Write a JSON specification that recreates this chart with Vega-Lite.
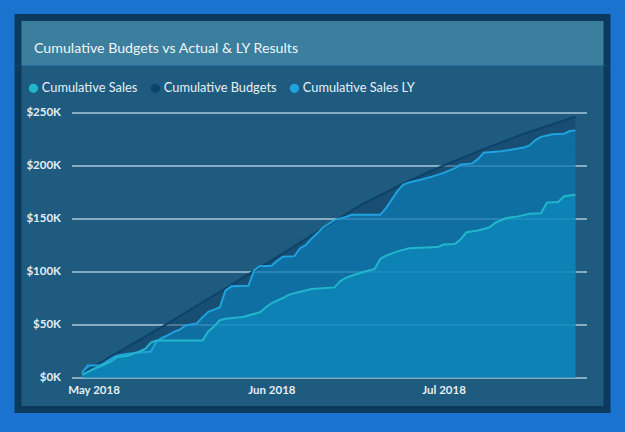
{
  "$schema": "https://vega.github.io/schema/vega-lite/v6.json",
  "background": "#1a73cf",
  "padding": {"left": 14, "top": 13.5, "right": 15, "bottom": 19.5},
  "spacing": 0,
  "bounds": "flush",
  "config": {"font": "Lato", "view": {"stroke": null}},
  "vconcat": [
    {
      "width": 589,
      "height": 48,
      "view": {"fill": "#3b7e9d", "stroke": "#0b3a5c", "strokeWidth": 7, "strokeDash": [637, 589, 48]},
      "data": {"values": [{}]},
      "mark": {"type": "text", "text": ""},
      "title": {
        "text": "Cumulative Budgets vs Actual & LY Results",
        "anchor": "start",
        "orient": "top",
        "offset": -49.5,
        "dx": 16,
        "baseline": "alphabetic",
        "font": "Lato",
        "fontSize": 14.2,
        "fontWeight": "normal",
        "color": "#eef5f8"
      }
    },
    {
      "width": 589,
      "height": 344,
      "view": {"fill": "#1f5b7f", "stroke": "#0b3a5c", "strokeWidth": 7, "strokeDash": [0, 589, 1277]},
      "data": {
        "values": [
          {"date": "2018-04-29", "series": "Cumulative Budgets", "value": 4000},
          {"date": "2018-05-06", "series": "Cumulative Budgets", "value": 26000},
          {"date": "2018-05-13", "series": "Cumulative Budgets", "value": 48000},
          {"date": "2018-05-20", "series": "Cumulative Budgets", "value": 71000},
          {"date": "2018-05-27", "series": "Cumulative Budgets", "value": 94000},
          {"date": "2018-06-03", "series": "Cumulative Budgets", "value": 117000},
          {"date": "2018-06-10", "series": "Cumulative Budgets", "value": 141000},
          {"date": "2018-06-17", "series": "Cumulative Budgets", "value": 164000},
          {"date": "2018-06-24", "series": "Cumulative Budgets", "value": 183000},
          {"date": "2018-07-01", "series": "Cumulative Budgets", "value": 200000},
          {"date": "2018-07-08", "series": "Cumulative Budgets", "value": 215500},
          {"date": "2018-07-15", "series": "Cumulative Budgets", "value": 230000},
          {"date": "2018-07-24", "series": "Cumulative Budgets", "value": 246000},

          {"date": "2018-04-29", "series": "Cumulative Sales LY", "value": 4400},
          {"date": "2018-04-30", "series": "Cumulative Sales LY", "value": 11300},
          {"date": "2018-05-02", "series": "Cumulative Sales LY", "value": 11300},
          {"date": "2018-05-03", "series": "Cumulative Sales LY", "value": 14000},
          {"date": "2018-05-04", "series": "Cumulative Sales LY", "value": 17500},
          {"date": "2018-05-05", "series": "Cumulative Sales LY", "value": 20500},
          {"date": "2018-05-07", "series": "Cumulative Sales LY", "value": 22300},
          {"date": "2018-05-09", "series": "Cumulative Sales LY", "value": 23500},
          {"date": "2018-05-11", "series": "Cumulative Sales LY", "value": 24500},
          {"date": "2018-05-12", "series": "Cumulative Sales LY", "value": 34000},
          {"date": "2018-05-13", "series": "Cumulative Sales LY", "value": 37500},
          {"date": "2018-05-14", "series": "Cumulative Sales LY", "value": 40000},
          {"date": "2018-05-15", "series": "Cumulative Sales LY", "value": 43000},
          {"date": "2018-05-16", "series": "Cumulative Sales LY", "value": 45000},
          {"date": "2018-05-17", "series": "Cumulative Sales LY", "value": 49000},
          {"date": "2018-05-19", "series": "Cumulative Sales LY", "value": 51000},
          {"date": "2018-05-20", "series": "Cumulative Sales LY", "value": 57000},
          {"date": "2018-05-21", "series": "Cumulative Sales LY", "value": 62000},
          {"date": "2018-05-22", "series": "Cumulative Sales LY", "value": 64000},
          {"date": "2018-05-23", "series": "Cumulative Sales LY", "value": 66000},
          {"date": "2018-05-24", "series": "Cumulative Sales LY", "value": 82000},
          {"date": "2018-05-25", "series": "Cumulative Sales LY", "value": 86000},
          {"date": "2018-05-28", "series": "Cumulative Sales LY", "value": 86500},
          {"date": "2018-05-29", "series": "Cumulative Sales LY", "value": 101000},
          {"date": "2018-05-30", "series": "Cumulative Sales LY", "value": 105000},
          {"date": "2018-06-01", "series": "Cumulative Sales LY", "value": 105500},
          {"date": "2018-06-02", "series": "Cumulative Sales LY", "value": 110000},
          {"date": "2018-06-03", "series": "Cumulative Sales LY", "value": 114000},
          {"date": "2018-06-05", "series": "Cumulative Sales LY", "value": 114500},
          {"date": "2018-06-06", "series": "Cumulative Sales LY", "value": 122000},
          {"date": "2018-06-07", "series": "Cumulative Sales LY", "value": 125000},
          {"date": "2018-06-08", "series": "Cumulative Sales LY", "value": 131000},
          {"date": "2018-06-09", "series": "Cumulative Sales LY", "value": 136000},
          {"date": "2018-06-10", "series": "Cumulative Sales LY", "value": 141500},
          {"date": "2018-06-12", "series": "Cumulative Sales LY", "value": 148500},
          {"date": "2018-06-14", "series": "Cumulative Sales LY", "value": 151500},
          {"date": "2018-06-15", "series": "Cumulative Sales LY", "value": 153500},
          {"date": "2018-06-20", "series": "Cumulative Sales LY", "value": 153500},
          {"date": "2018-06-21", "series": "Cumulative Sales LY", "value": 160000},
          {"date": "2018-06-22", "series": "Cumulative Sales LY", "value": 168000},
          {"date": "2018-06-23", "series": "Cumulative Sales LY", "value": 176000},
          {"date": "2018-06-24", "series": "Cumulative Sales LY", "value": 182000},
          {"date": "2018-06-25", "series": "Cumulative Sales LY", "value": 184000},
          {"date": "2018-06-27", "series": "Cumulative Sales LY", "value": 186500},
          {"date": "2018-06-29", "series": "Cumulative Sales LY", "value": 189500},
          {"date": "2018-07-01", "series": "Cumulative Sales LY", "value": 193000},
          {"date": "2018-07-03", "series": "Cumulative Sales LY", "value": 197500},
          {"date": "2018-07-04", "series": "Cumulative Sales LY", "value": 201000},
          {"date": "2018-07-06", "series": "Cumulative Sales LY", "value": 202000},
          {"date": "2018-07-07", "series": "Cumulative Sales LY", "value": 206000},
          {"date": "2018-07-08", "series": "Cumulative Sales LY", "value": 212000},
          {"date": "2018-07-11", "series": "Cumulative Sales LY", "value": 213500},
          {"date": "2018-07-13", "series": "Cumulative Sales LY", "value": 215000},
          {"date": "2018-07-15", "series": "Cumulative Sales LY", "value": 217000},
          {"date": "2018-07-16", "series": "Cumulative Sales LY", "value": 219000},
          {"date": "2018-07-17", "series": "Cumulative Sales LY", "value": 224000},
          {"date": "2018-07-18", "series": "Cumulative Sales LY", "value": 227000},
          {"date": "2018-07-20", "series": "Cumulative Sales LY", "value": 229500},
          {"date": "2018-07-22", "series": "Cumulative Sales LY", "value": 230000},
          {"date": "2018-07-23", "series": "Cumulative Sales LY", "value": 232500},
          {"date": "2018-07-24", "series": "Cumulative Sales LY", "value": 233000},

          {"date": "2018-04-29", "series": "Cumulative Sales", "value": 2500},
          {"date": "2018-05-01", "series": "Cumulative Sales", "value": 8000},
          {"date": "2018-05-02", "series": "Cumulative Sales", "value": 10000},
          {"date": "2018-05-03", "series": "Cumulative Sales", "value": 12500},
          {"date": "2018-05-04", "series": "Cumulative Sales", "value": 15000},
          {"date": "2018-05-05", "series": "Cumulative Sales", "value": 19000},
          {"date": "2018-05-06", "series": "Cumulative Sales", "value": 19800},
          {"date": "2018-05-07", "series": "Cumulative Sales", "value": 20500},
          {"date": "2018-05-08", "series": "Cumulative Sales", "value": 22500},
          {"date": "2018-05-09", "series": "Cumulative Sales", "value": 24500},
          {"date": "2018-05-10", "series": "Cumulative Sales", "value": 27000},
          {"date": "2018-05-11", "series": "Cumulative Sales", "value": 33000},
          {"date": "2018-05-12", "series": "Cumulative Sales", "value": 35000},
          {"date": "2018-05-20", "series": "Cumulative Sales", "value": 35000},
          {"date": "2018-05-21", "series": "Cumulative Sales", "value": 43500},
          {"date": "2018-05-22", "series": "Cumulative Sales", "value": 48000},
          {"date": "2018-05-23", "series": "Cumulative Sales", "value": 54000},
          {"date": "2018-05-24", "series": "Cumulative Sales", "value": 55500},
          {"date": "2018-05-27", "series": "Cumulative Sales", "value": 57000},
          {"date": "2018-05-30", "series": "Cumulative Sales", "value": 61500},
          {"date": "2018-05-31", "series": "Cumulative Sales", "value": 66000},
          {"date": "2018-06-01", "series": "Cumulative Sales", "value": 70000},
          {"date": "2018-06-02", "series": "Cumulative Sales", "value": 72500},
          {"date": "2018-06-03", "series": "Cumulative Sales", "value": 75000},
          {"date": "2018-06-04", "series": "Cumulative Sales", "value": 78000},
          {"date": "2018-06-05", "series": "Cumulative Sales", "value": 79500},
          {"date": "2018-06-08", "series": "Cumulative Sales", "value": 83500},
          {"date": "2018-06-12", "series": "Cumulative Sales", "value": 85000},
          {"date": "2018-06-13", "series": "Cumulative Sales", "value": 91000},
          {"date": "2018-06-14", "series": "Cumulative Sales", "value": 94000},
          {"date": "2018-06-15", "series": "Cumulative Sales", "value": 96000},
          {"date": "2018-06-17", "series": "Cumulative Sales", "value": 99500},
          {"date": "2018-06-19", "series": "Cumulative Sales", "value": 102500},
          {"date": "2018-06-20", "series": "Cumulative Sales", "value": 112000},
          {"date": "2018-06-21", "series": "Cumulative Sales", "value": 115000},
          {"date": "2018-06-23", "series": "Cumulative Sales", "value": 119000},
          {"date": "2018-06-25", "series": "Cumulative Sales", "value": 122000},
          {"date": "2018-06-30", "series": "Cumulative Sales", "value": 123000},
          {"date": "2018-07-01", "series": "Cumulative Sales", "value": 125500},
          {"date": "2018-07-03", "series": "Cumulative Sales", "value": 126000},
          {"date": "2018-07-04", "series": "Cumulative Sales", "value": 130500},
          {"date": "2018-07-05", "series": "Cumulative Sales", "value": 137000},
          {"date": "2018-07-07", "series": "Cumulative Sales", "value": 138700},
          {"date": "2018-07-09", "series": "Cumulative Sales", "value": 141500},
          {"date": "2018-07-10", "series": "Cumulative Sales", "value": 146000},
          {"date": "2018-07-12", "series": "Cumulative Sales", "value": 150500},
          {"date": "2018-07-14", "series": "Cumulative Sales", "value": 152000},
          {"date": "2018-07-16", "series": "Cumulative Sales", "value": 154500},
          {"date": "2018-07-18", "series": "Cumulative Sales", "value": 155000},
          {"date": "2018-07-19", "series": "Cumulative Sales", "value": 165000},
          {"date": "2018-07-21", "series": "Cumulative Sales", "value": 165500},
          {"date": "2018-07-22", "series": "Cumulative Sales", "value": 171000},
          {"date": "2018-07-24", "series": "Cumulative Sales", "value": 172400}
        ],
        "format": {"parse": {"date": "utc:'%Y-%m-%d'"}}
      },
      "encoding": {
        "x": {
          "field": "date",
          "type": "temporal",
          "scale": {"type": "utc", "nice": false, "domain": [1523995948800, 1532864736000]},
          "axis": {
            "title": null,
            "values": [1525132800000, 1527811200000, 1530403200000],
            "labelExpr": "utcFormat(datum.value, '%b %Y')",
            "offset": -25,
            "domain": false,
            "ticks": false,
            "tickSize": 0,
            "grid": false,
            "labelPadding": 0,
            "labelBaseline": "top",
            "labelAlign": "center",
            "labelFlush": false,
            "labelOverlap": false,
            "labelFont": "Lato",
            "labelFontSize": 11.5,
            "labelFontWeight": "bold",
            "labelColor": "#e4eef3"
          }
        },
        "y": {
          "field": "value",
          "type": "quantitative",
          "scale": {"domain": [-30189, 294340], "nice": false, "zero": false},
          "axis": {
            "title": null,
            "values": [0, 50000, 100000, 150000, 200000, 250000],
            "labelExpr": "'$' + format(datum.value / 1000, 'd') + 'K'",
            "offset": -42.5,
            "domain": false,
            "ticks": false,
            "tickSize": 0,
            "grid": true,
            "gridColor": "#a9c9da",
            "gridWidth": 1.4,
            "gridOpacity": 1,
            "gridDash": [0, 53.5, 515, 100],
            "labelPadding": 0,
            "labelFont": "Lato",
            "labelFontSize": 11.5,
            "labelFontWeight": "bold",
            "labelColor": "#e4eef3"
          }
        }
      },
      "layer": [
        {
          "transform": [{"filter": "datum.series === 'Cumulative Budgets'"}],
          "mark": {"type": "area", "color": "#114167", "opacity": 0.5}
        },
        {
          "transform": [{"filter": "datum.series === 'Cumulative Sales LY'"}],
          "mark": {"type": "area", "color": "#0690d1", "opacity": 0.5}
        },
        {
          "transform": [{"filter": "datum.series === 'Cumulative Sales'"}],
          "mark": {"type": "area", "color": "#0a96c8", "opacity": 0.5}
        },
        {
          "transform": [{"filter": "datum.series !== 'Cumulative Sales'"}],
          "mark": {"type": "line", "strokeWidth": 2},
          "encoding": {
            "color": {
              "field": "series",
              "type": "nominal",
              "scale": {
                "domain": ["Cumulative Sales", "Cumulative Budgets", "Cumulative Sales LY"],
                "range": ["#22b6cc", "#0d426a", "#1ea3df"]
              },
              "legend": {
                "title": null,
                "orient": "none",
                "legendX": 9,
                "legendY": 64,
                "direction": "horizontal",
                "symbolType": "circle",
                "symbolSize": 85,
                "symbolStrokeWidth": 0,
                "labelFont": "Lato",
                "labelFontSize": 12.8,
                "labelColor": "#e6f0f4",
                "labelOffset": 2,
                "columnPadding": 11,
                "encode": {
                  "symbols": {
                    "update": {
                      "fill": {"scale": "color", "field": "value"},
                      "opacity": {"value": 1}
                    }
                  }
                }
              }
            }
          }
        },
        {
          "transform": [{"filter": "datum.series === 'Cumulative Sales'"}],
          "mark": {"type": "line", "strokeWidth": 2},
          "encoding": {"color": {"field": "series", "type": "nominal"}}
        }
      ]
    }
  ]
}
